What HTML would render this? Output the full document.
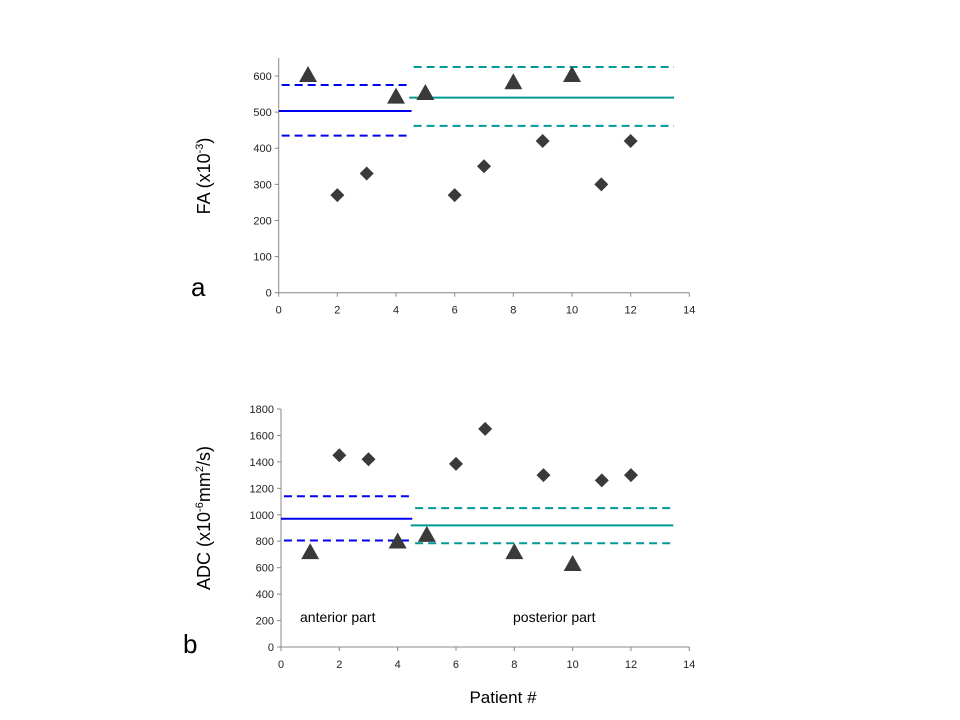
<!DOCTYPE html>
<html><head><meta charset="utf-8"><style>
html,body{margin:0;padding:0;background:#fff}
svg{display:block;font-family:"Liberation Sans",sans-serif}
</style></head><body>
<svg id="c" width="960" height="720"></svg>
<script>
const xTicks=[0,2,4,6,8,10,12,14];
const faTicks=[0,100,200,300,400,500,600];
const adcTicks=[0,200,400,600,800,1000,1200,1400,1600,1800];
const faTriX=[1,4,5,8,10];
const faTriY=[600,540,550,580,600];
const faDiaX=[2,3,6,7,9,11,12];
const faDiaY=[270,330,270,350,420,300,420];
const adcTriX=[1,4,5,8,10];
const adcTriY=[710,790,840,710,620];
const adcDiaX=[2,3,6,7,9,11,12];
const adcDiaY=[1450,1420,1385,1650,1300,1260,1300];
// [value, x0, x1, color, dashed]
const faLines=[[503,0,4.53,'#0000ee',0],[575,0.1,4.53,'#0000ee',1],[435,0.1,4.53,'#0000ee',1],
 [540,4.45,13.48,'#009999',0],[625,4.6,13.48,'#009999',1],[462,4.6,13.48,'#009999',1]];
const adcLines=[[970,0,4.5,'#0000ee',0],[1140,0.1,4.5,'#0000ee',1],[805,0.1,4.5,'#0000ee',1],
 [920,4.45,13.45,'#009999',0],[1050,4.6,13.45,'#009999',1],[785,4.6,13.45,'#009999',1]];
const svg=document.getElementById('c');
const NS='http://www.w3.org/2000/svg';
function mk(t,a,p){const e=document.createElementNS(NS,t);for(const k in a)e.setAttribute(k,a[k]);(p||svg).appendChild(e);return e;}
function chart(name,x0,x1,y0,yTop,ymaxAxis,ymaxTick,yTicks,lines,tx,ty,dx,dy){
 const g=mk('g',{});
 
 
 const X=v=>x0+(x1-x0)*v/14, Y=v=>y0-(y0-yTop)*v/ymaxTick;
 const ax=mk('path',{d:`M${x0} ${Y(ymaxAxis)}V${y0}H${x1}`,stroke:'#888',fill:'none','stroke-width':1},g);
 
 
 yTicks.forEach(v=>{mk('line',{x1:x0-4,x2:x0,y1:Y(v),y2:Y(v),stroke:'#888'},g);
  const t=mk('text',{x:x0-7,y:Y(v)+4,'text-anchor':'end','font-size':11,fill:'#222'},g);t.textContent=v;
  
  });
 xTicks.forEach(v=>{mk('line',{x1:X(v),x2:X(v),y1:y0,y2:y0+4,stroke:'#888'},g);
  const t=mk('text',{x:X(v),y:y0+21,'text-anchor':'middle','font-size':11,fill:'#222'},g);t.textContent=v;
  
  });
 lines.forEach(l=>{const e=mk('line',{x1:X(l[1]),x2:X(l[2]),y1:Y(l[0]),y2:Y(l[0]),stroke:l[3],'stroke-width':2},g);
  if(l[4])e.setAttribute('stroke-dasharray','8 5');
  
  });
 tx.forEach((v,i)=>{const cx=X(v),cy=Y(ty[i]);
  const p=mk('polygon',{points:`${cx},${cy-10} ${cx-9},${cy+6} ${cx+9},${cy+6}`,fill:'#3a3a3a'},g);
  
  });
 dx.forEach((v,i)=>{const cx=X(v),cy=Y(dy[i]);
  const p=mk('polygon',{points:`${cx},${cy-7} ${cx+7},${cy} ${cx},${cy+7} ${cx-7},${cy}`,fill:'#3a3a3a'},g);
  
  });
 return g;
}
chart('fa-chart',278.7,689.3,292.7,76,650,600,faTicks,faLines,faTriX,faTriY,faDiaX,faDiaY);
chart('adc-chart',281,689.3,647,409,1800,1800,adcTicks,adcLines,adcTriX,adcTriY,adcDiaX,adcDiaY);
</script>
<svg width="960" height="720" style="position:absolute;left:0;top:0">
<text transform="translate(210,176) rotate(-90)" text-anchor="middle" font-size="18" font-family="Liberation Sans,sans-serif">FA (x10<tspan dy="-7" font-size="11">-3</tspan><tspan dy="7">)</tspan></text>
<text transform="translate(210,518) rotate(-90)" text-anchor="middle" font-size="18" font-family="Liberation Sans,sans-serif">ADC (x10<tspan dy="-7" font-size="11">-6</tspan><tspan dy="7">mm</tspan><tspan dy="-7" font-size="11">2</tspan><tspan dy="7">/s)</tspan></text>
<text x="191" y="296" font-size="26" font-family="Liberation Sans,sans-serif">a</text>
<text x="183" y="653" font-size="26" font-family="Liberation Sans,sans-serif">b</text>
<text x="300" y="622" font-size="14" font-family="Liberation Sans,sans-serif">anterior part</text>
<text x="513" y="622" font-size="14" font-family="Liberation Sans,sans-serif">posterior part</text>
<text x="503" y="703" text-anchor="middle" font-size="17" font-family="Liberation Sans,sans-serif">Patient #</text>
</svg>
<style>body{position:relative;width:960px;height:720px}</style>
</body></html>
